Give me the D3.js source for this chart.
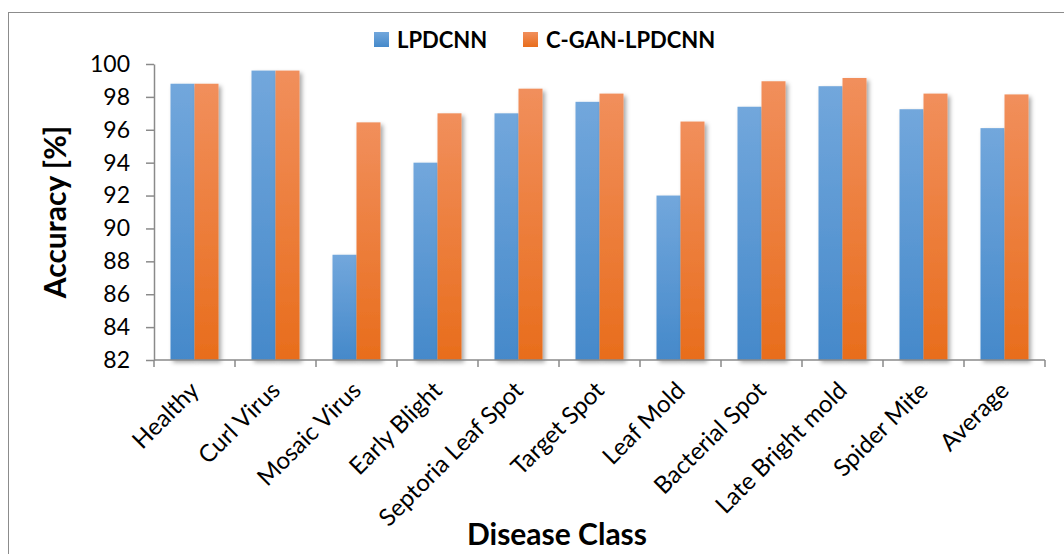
<!DOCTYPE html>
<html>
<head>
<meta charset="utf-8">
<script src="https://cdn.jsdelivr.net/npm/d3@7"></script>
<style>
  html, body { margin: 0; padding: 0; background: #fff; }
  svg { display: block; font-family: Lato, "Noto Sans", sans-serif; }
</style>
</head>
<body>
<svg id="chart" width="1064" height="554"></svg>
<script>
// Disease classes along the x axis
const categories = ["Healthy", "Curl Virus", "Mosaic Virus", "Early Blight", "Septoria Leaf Spot",
  "Target Spot", "Leaf Mold", "Bacterial Spot", "Late Bright mold", "Spider Mite", "Average"];

// Series names and accuracy values (%)
const seriesNames = ["LPDCNN", "C-GAN-LPDCNN"];
const lpdcnn = [98.8, 99.6, 88.4, 94.0, 97.0, 97.7, 92.0, 97.4, 98.65, 97.25, 96.1];
const cganLpdcnn = [98.8, 99.6, 96.45, 97.0, 98.5, 98.2, 96.5, 98.95, 99.15, 98.2, 98.15];

// Y axis ticks
const yTicks = [82, 84, 86, 88, 90, 92, 94, 96, 98, 100];

const seriesValues = [lpdcnn, cganLpdcnn];
const colors = {
  "LPDCNN": { top: "#72a7dc", bottom: "#4589ca" },
  "C-GAN-LPDCNN": { top: "#f18f5c", bottom: "#e86d1c" }
};

const svg = d3.select("#chart");
const margin = { left: 154, right: 1045, top: 64, bottom: 360 };

const defs = svg.append("defs");
seriesNames.forEach((name, i) => {
  const g = defs.append("linearGradient")
    .attr("id", "grad" + i).attr("x1", 0).attr("y1", 0).attr("x2", 0).attr("y2", 1);
  g.append("stop").attr("offset", "0%").attr("stop-color", colors[name].top);
  g.append("stop").attr("offset", "100%").attr("stop-color", colors[name].bottom);
});
const shadow = defs.append("filter").attr("id", "shadow")
  .attr("x", "-20%").attr("y", "-20%").attr("width", "160%").attr("height", "160%");
shadow.append("feDropShadow").attr("dx", 2.5).attr("dy", 2.5)
  .attr("stdDeviation", 2.2).attr("flood-color", "#000").attr("flood-opacity", 0.35);
const lineShadow = defs.append("filter").attr("id", "lineShadow")
  .attr("x", "-5%").attr("y", "-200%").attr("width", "110%").attr("height", "500%");
lineShadow.append("feDropShadow").attr("dx", 0).attr("dy", 1.5)
  .attr("stdDeviation", 1).attr("flood-color", "#000").attr("flood-opacity", 0.25);

// Chart frame
svg.append("rect").attr("x", 8.5).attr("y", 12.5).attr("width", 1200).attr("height", 700)
  .attr("fill", "none").attr("stroke", "#8c8c8c").attr("stroke-width", 1);

const y = d3.scaleLinear().domain([82, 100]).range([margin.bottom, margin.top]);
const x0 = d3.scaleBand().domain(categories).range([margin.left, margin.right])
  .paddingInner(33 / 81).paddingOuter(16.5 / 81);
const x1 = d3.scaleBand().domain(seriesNames).range([0, x0.bandwidth()]);

// Horizontal gridlines
svg.append("g").selectAll("line").data(yTicks.filter(t => t > 82)).join("line")
  .attr("x1", margin.left).attr("x2", margin.right)
  .attr("y1", d => y(d)).attr("y2", d => y(d))
  .attr("stroke", "#8a8a8a").attr("stroke-width", 1.5)
  .attr("filter", "url(#lineShadow)");

// Bars
const groups = svg.append("g").selectAll("g").data(categories).join("g")
  .attr("transform", d => `translate(${x0(d)},0)`);
groups.selectAll("rect")
  .data((c, ci) => seriesNames.map((s, si) => ({ series: s, si, value: seriesValues[si][ci] })))
  .join("rect")
  .attr("x", d => x1(d.series))
  .attr("width", x1.bandwidth())
  .attr("y", d => y(d.value))
  .attr("height", d => y(82) - y(d.value))
  .attr("fill", d => `url(#grad${d.si})`)
  .attr("filter", "url(#shadow)");

// Y axis
const yAxis = svg.append("g").attr("transform", `translate(${margin.left},0)`)
  .call(d3.axisLeft(y).tickValues(yTicks).tickFormat(d3.format("d")).tickSize(8).tickPadding(16).tickSizeOuter(0));
yAxis.select(".domain").attr("stroke", "#8a8a8a").attr("stroke-width", 1.5);
yAxis.selectAll(".tick line").attr("stroke", "#8a8a8a").attr("stroke-width", 1.5);
yAxis.selectAll(".tick text").attr("font-size", 23).attr("fill", "#000")
  .attr("font-family", "Lato, sans-serif");

// X axis line and boundary ticks
const xAxisG = svg.append("g");
xAxisG.append("line").attr("x1", margin.left).attr("x2", margin.right)
  .attr("y1", y(82)).attr("y2", y(82)).attr("stroke", "#8a8a8a").attr("stroke-width", 1.5);
const boundaries = categories.map(c => x0(c) - x0.step() * x0.paddingInner() / 2)
  .concat([margin.right]);
xAxisG.selectAll("line.tick").data(boundaries).join("line").attr("class", "tick")
  .attr("x1", d => d).attr("x2", d => d)
  .attr("y1", y(82)).attr("y2", y(82) + 7)
  .attr("stroke", "#8a8a8a").attr("stroke-width", 1.5);

// Rotated category labels
xAxisG.selectAll("text").data(categories).join("text")
  .attr("transform", d => `translate(${x0(d) + x0.bandwidth() / 2 + 6},${y(82) + 32}) rotate(-45)`)
  .attr("text-anchor", "end")
  .attr("font-size", 24)
  .attr("fill", "#000")
  .text(d => d);

// Axis titles
svg.append("text")
  .attr("transform", `translate(66,212) rotate(-90)`)
  .attr("text-anchor", "middle")
  .attr("font-size", 30).attr("font-weight", "bold").attr("fill", "#000")
  .text("Accuracy [%]");
svg.append("text")
  .attr("x", 557).attr("y", 545)
  .attr("text-anchor", "middle")
  .attr("font-size", 30).attr("font-weight", "bold").attr("fill", "#000")
  .text("Disease Class");

// Legend
const legendX = [374, 523];
const legend = svg.append("g").selectAll("g").data(seriesNames).join("g")
  .attr("transform", (d, i) => `translate(${legendX[i]},32)`);
legend.append("rect").attr("width", 15).attr("height", 15)
  .attr("fill", (d, i) => `url(#grad${i})`);
legend.append("text").attr("x", 23).attr("y", 15.5)
  .attr("font-size", 22).attr("font-weight", "bold").attr("fill", "#000")
  .text(d => d);
</script>
</body>
</html>
